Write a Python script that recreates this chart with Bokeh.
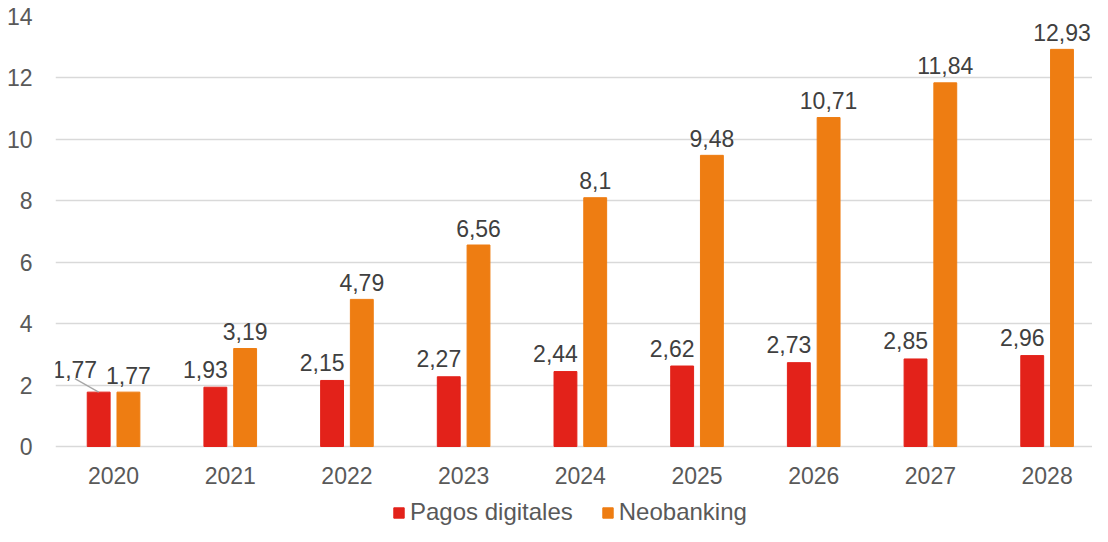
from bokeh.plotting import figure
from bokeh.models import ColumnDataSource, Range1d, FixedTicker, Legend, LegendItem
from bokeh.core.properties import value
from bokeh.transform import dodge
from bokeh.embed import file_html
from bokeh.resources import INLINE

years = ["2020", "2021", "2022", "2023", "2024", "2025", "2026", "2027", "2028"]
pagos = [1.77, 1.93, 2.15, 2.27, 2.44, 2.62, 2.73, 2.85, 2.96]
neobanking = [1.77, 3.19, 4.79, 6.56, 8.1, 9.48, 10.71, 11.84, 12.93]
y_ticks = [0, 2, 4, 6, 8, 10, 12, 14]

RED = "#E3221A"
ORANGE = "#EE7D12"
FONT = "Liberation Sans"
LABEL_COLOR = "#404040"
TICK_COLOR = "#595959"
FS = "23px"

def fmt(v):
    return ("%g" % v).replace(".", ",")

idx = list(range(len(years)))
src = ColumnDataSource(dict(
    x=idx, pagos=pagos, neo=neobanking,
    pl=[fmt(v) for v in pagos], nl=[fmt(v) for v in neobanking],
))
src_first = ColumnDataSource(dict(x=idx[:1], pagos=pagos[:1], pl=[fmt(pagos[0])]))
src_rest = ColumnDataSource(dict(x=idx[1:], pagos=pagos[1:], pl=[fmt(v) for v in pagos[1:]]))

# frame: 0 at 430 px below the top (14 units), extends 80 px below 0 for axis + legend
PX_PER_UNIT = 430 / 14.0
p = figure(width=1092, height=526, output_backend="svg", toolbar_location=None,
           x_range=Range1d(-0.4975, 8.389), y_range=Range1d(-80 / PX_PER_UNIT, 14),
           min_border_left=55, min_border_right=0, min_border_top=16, min_border_bottom=0)
p.outline_line_color = None
p.background_fill_color = "white"
p.border_fill_color = "white"

OFF = 0.1275
BW = 0.196
r_red = p.vbar(x=dodge("x", -OFF), top="pagos", width=BW, source=src, color=RED)
r_or = p.vbar(x=dodge("x", OFF), top="neo", width=BW, source=src, color=ORANGE)

# data labels
p.text(x=dodge("x", OFF), y="neo", text="nl", source=src, text_align="center",
       text_baseline="alphabetic", y_offset=-17, text_font=value(FONT), text_font_size=FS,
       text_color=LABEL_COLOR)
p.text(x=dodge("x", -OFF + BW / 2), y="pagos", text="pl", source=src_rest, text_align="right",
       text_baseline="alphabetic", y_offset=-18, x_offset=1, text_font=value(FONT),
       text_font_size=FS, text_color=LABEL_COLOR)
p.text(x=dodge("x", -OFF + BW / 2), y="pagos", text="pl", source=src_first, text_align="right",
       text_baseline="alphabetic", y_offset=-23, x_offset=-13, text_font=value(FONT),
       text_font_size=FS, text_color=LABEL_COLOR)
# leader line for the 2020 label
px_x = 1.0 / 117.6
px_y = 1.0 / PX_PER_UNIT
p.segment(x0=idx[0] - OFF - 24 * px_x, y0=pagos[0] + 13.5 * px_y,
          x1=idx[0] - OFF, y1=pagos[0], line_color="#A6A6A6", line_width=1.2)

# axes
p.xaxis.ticker = FixedTicker(ticks=idx)
p.xaxis.major_label_overrides = {i: y for i, y in zip(idx, years)}
p.xaxis.fixed_location = 0
p.yaxis.ticker = FixedTicker(ticks=y_ticks)
for ax in (p.xaxis, p.yaxis):
    ax.axis_line_color = None
    ax.major_tick_line_color = None
    ax.minor_tick_line_color = None
    ax.major_label_text_font = FONT
    ax.major_label_text_font_size = FS
    ax.major_label_text_color = TICK_COLOR
p.yaxis.major_label_standoff = 17
p.xaxis.major_label_standoff = 14

p.xgrid.grid_line_color = None
p.ygrid.grid_line_color = "#D9D9D9"
p.ygrid.grid_line_width = 1.5

legend = Legend(items=[LegendItem(label="Pagos digitales", renderers=[r_red]),
                       LegendItem(label="Neobanking", renderers=[r_or])],
                orientation="horizontal", location=(337, 0),
                label_text_font=FONT, label_text_font_size="24px", label_text_color=TICK_COLOR,
                glyph_width=13, glyph_height=13, label_standoff=5, spacing=28,
                border_line_color=None, background_fill_alpha=0, padding=0, margin=0)
p.add_layout(legend, "center")

open("out.html", "w").write(file_html(p, INLINE))
